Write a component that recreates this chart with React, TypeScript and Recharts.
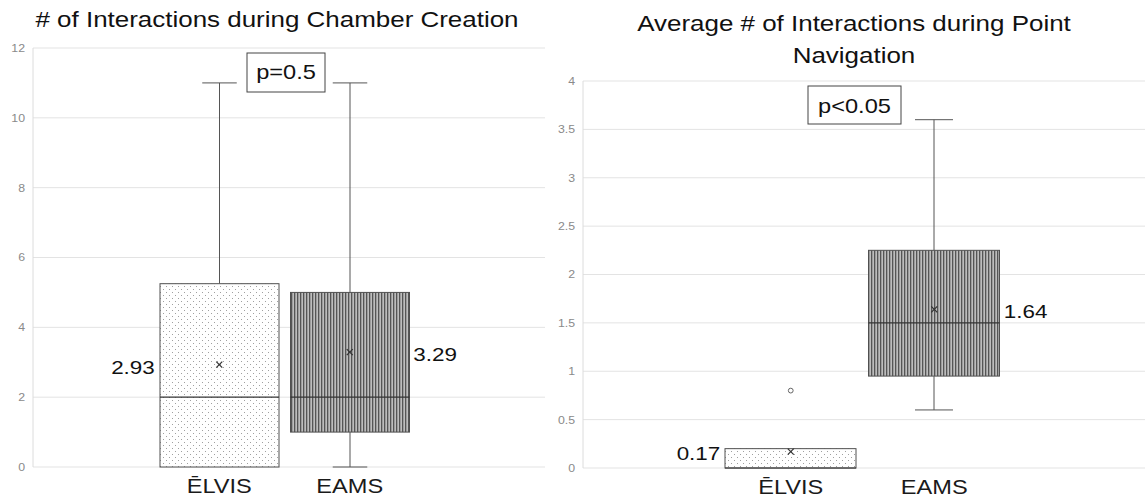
import React from "react";
import { ComposedChart, Bar, Scatter, XAxis, YAxis, CartesianGrid } from "recharts";

const categories = ["ĒLVIS", "EAMS"];

// # of interactions during chamber creation
const chamberMin = [0, 0];
const chamberQ1 = [0, 1];
const chamberMedian = [2, 2];
const chamberQ3 = [5.25, 5];
const chamberMax = [11, 11];
const chamberMean = [2.93, 3.29];
const chamberOutlier: (number | null)[] = [null, null];
const chamberTicks = [0, 2, 4, 6, 8, 10, 12];

// average # of interactions during point navigation
const navMin = [0, 0.6];
const navQ1 = [0, 0.95];
const navMedian = [0, 1.5];
const navQ3 = [0.2, 2.25];
const navMax = [0.2, 3.6];
const navMean = [0.17, 1.64];
const navOutlier: (number | null)[] = [0.8, null];
const navTicks = [0, 0.5, 1, 1.5, 2, 2.5, 3, 3.5, 4];

const FONT = "'Liberation Sans', Arial, sans-serif";
const SX = 1.18; // the source image text is a bit wider than Arial
const patterns = ["url(#dots)", "url(#stripes)"];

const buildRows = (
  min: number[],
  q1: number[],
  median: number[],
  q3: number[],
  max: number[],
  mean: number[],
  outlier: (number | null)[]
) =>
  categories.map((name, i) => ({
    name,
    range: [min[i], max[i]],
    min: min[i],
    q1: q1[i],
    median: median[i],
    q3: q3[i],
    max: max[i],
    mean: mean[i],
    outlier: outlier[i],
    pattern: patterns[i],
    side: i === 0 ? "left" : "right",
  }));

const chamberRows = buildRows(chamberMin, chamberQ1, chamberMedian, chamberQ3, chamberMax, chamberMean, chamberOutlier);
const navRows = buildRows(navMin, navQ1, navMedian, navQ3, navMax, navMean, navOutlier);

// horizontally stretched text
const SText = ({
  x,
  y,
  size,
  anchor = "middle",
  fill = "#111",
  dy,
  sx = SX,
  children,
}: {
  x: number;
  y: number;
  size: number;
  anchor?: "start" | "middle" | "end";
  fill?: string;
  dy?: string;
  sx?: number;
  children: React.ReactNode;
}) => (
  <g transform={`translate(${x},${y}) scale(${sx},1)`}>
    <text x={0} y={0} dy={dy} textAnchor={anchor} fontSize={size} fontFamily={FONT} fill={fill}>
      {children}
    </text>
  </g>
);

// box + whiskers, drawn inside the [min, max] range bar
const BoxShape = (props: any) => {
  const { x, y, width, height, payload } = props;
  const { min, q1, median, q3, max, pattern } = payload;
  const bottom = y + height;
  const span = max - min;
  const toY = (v: number) => (span === 0 ? bottom : bottom - ((v - min) / span) * height);
  const cx = x + width / 2;
  const cap = width * 0.145;
  const yQ1 = toY(q1);
  const yQ3 = toY(q3);
  const yMed = toY(median);
  return (
    <g>
      {max > q3 && (
        <g stroke="#555" strokeWidth={1}>
          <line x1={cx} x2={cx} y1={toY(max)} y2={yQ3} />
          <line x1={cx - cap} x2={cx + cap} y1={toY(max)} y2={toY(max)} />
        </g>
      )}
      {min < q1 && (
        <g stroke="#555" strokeWidth={1}>
          <line x1={cx} x2={cx} y1={toY(min)} y2={yQ1} />
          <line x1={cx - cap} x2={cx + cap} y1={toY(min)} y2={toY(min)} />
        </g>
      )}
      <rect x={x} y={yQ3} width={width} height={yQ1 - yQ3} fill={pattern} stroke="#505050" strokeWidth={1} />
      <line x1={x} x2={x + width} y1={yMed} y2={yMed} stroke="#333" strokeWidth={1.2} />
    </g>
  );
};

const MeanShape = (props: any) => {
  const { cx, cy, payload, boxHalf } = props;
  if (cx == null || cy == null) return <g />;
  const s = 3;
  const left = payload.side === "left";
  return (
    <g>
      <line x1={cx - s} y1={cy - s} x2={cx + s} y2={cy + s} stroke="#333" strokeWidth={1.2} />
      <line x1={cx - s} y1={cy + s} x2={cx + s} y2={cy - s} stroke="#333" strokeWidth={1.2} />
      <SText x={left ? cx - boxHalf - 5 : cx + boxHalf + 4} y={cy + 2} dy="0.36em" size={19} anchor={left ? "end" : "start"}>
        {payload.mean}
      </SText>
    </g>
  );
};

const OutlierShape = (props: any) => {
  const { cx, cy, payload } = props;
  if (payload.outlier == null || cx == null || cy == null) return <g />;
  return <circle cx={cx} cy={cy} r={2.4} fill="#fff" stroke="#666" strokeWidth={1} />;
};

const CategoryTick = (props: any) => {
  const { x, y, payload } = props;
  return (
    <SText x={x} y={y} dy="0.71em" size={20} fill="#1a1a1a">
      {payload.value}
    </SText>
  );
};

const ValueTick = (props: any) => {
  const { x, y, payload } = props;
  return (
    <SText x={x} y={y} dy="0.355em" size={11} anchor="end" fill="#8a8a8a" sx={1.12}>
      {payload.value}
    </SText>
  );
};

const BoxChart = ({
  rows,
  width,
  top,
  bottom,
  domain,
  ticks,
  barSize,
  padding,
}: {
  rows: any[];
  width: number;
  top: number;
  bottom: number;
  domain: [number, number];
  ticks: number[];
  barSize: number;
  padding: { left: number; right: number };
}) => (
  <ComposedChart width={width} height={502} data={rows} margin={{ top, right: 0, bottom: 0, left: 0 }}>
    <CartesianGrid vertical={false} stroke="#e3e3e3" />
    <XAxis
      dataKey="name"
      height={bottom}
      padding={padding}
      axisLine={false}
      tickLine={false}
      tickMargin={6}
      tick={<CategoryTick />}
    />
    <YAxis
      width={33}
      domain={domain}
      ticks={ticks}
      interval={0}
      axisLine={{ stroke: "#dcdcdc" }}
      tickLine={false}
      tick={<ValueTick />}
    />
    <Bar dataKey="range" barSize={barSize} shape={<BoxShape />} isAnimationActive={false} />
    <Scatter dataKey="outlier" shape={<OutlierShape />} isAnimationActive={false} />
    <Scatter dataKey="mean" shape={(p: any) => <MeanShape {...p} boxHalf={barSize / 2} />} isAnimationActive={false} />
  </ComposedChart>
);

export default function App() {
  return (
    <div style={{ position: "absolute", left: 0, top: 0, width: 1145, height: 502, background: "#fff", fontFamily: FONT }}>
      <svg width={0} height={0} style={{ position: "absolute" }}>
        <defs>
          <pattern id="dots" width={6} height={6} patternUnits="userSpaceOnUse">
            <rect width={6} height={6} fill="#fff" />
            <rect x={1} y={1} width={1} height={1} fill="#a0a0a0" />
            <rect x={4} y={4} width={1} height={1} fill="#a0a0a0" />
          </pattern>
          <pattern id="stripes" width={3} height={3} patternUnits="userSpaceOnUse">
            <rect width={3} height={3} fill="#9c9c9c" />
            <rect x={0} width={1} height={3} fill="#555" />
            <rect x={2} width={1} height={3} fill="#bdbdbd" />
          </pattern>
        </defs>
      </svg>
      <div style={{ position: "absolute", left: 0, top: 0 }}>
        <BoxChart
          rows={chamberRows}
          width={545}
          top={48}
          bottom={35}
          domain={[0, 12]}
          ticks={chamberTicks}
          barSize={119}
          padding={{ left: 121, right: 130 }}
        />
      </div>
      <div style={{ position: "absolute", left: 550, top: 0 }}>
        <BoxChart
          rows={navRows}
          width={595}
          top={81}
          bottom={34}
          domain={[0, 4]}
          ticks={navTicks}
          barSize={131}
          padding={{ left: 136, right: 139 }}
        />
      </div>
      <svg width={1145} height={502} style={{ position: "absolute", left: 0, top: 0, pointerEvents: "none" }}>
        <SText x={277} y={27} size={22}>
          # of Interactions during Chamber Creation
        </SText>
        <SText x={854} y={31} size={22}>
          Average # of Interactions during Point
        </SText>
        <SText x={854} y={63} size={22}>
          Navigation
        </SText>
        <rect x={247} y={53} width={78} height={39} fill="#fff" stroke="#444" strokeWidth={1} />
        <SText x={286} y={79} size={20}>
          p=0.5
        </SText>
        <rect x={808} y={86} width={93} height={38} fill="#fff" stroke="#444" strokeWidth={1} />
        <SText x={854.5} y={113} size={20}>
          p&lt;0.05
        </SText>
      </svg>
    </div>
  );
}
